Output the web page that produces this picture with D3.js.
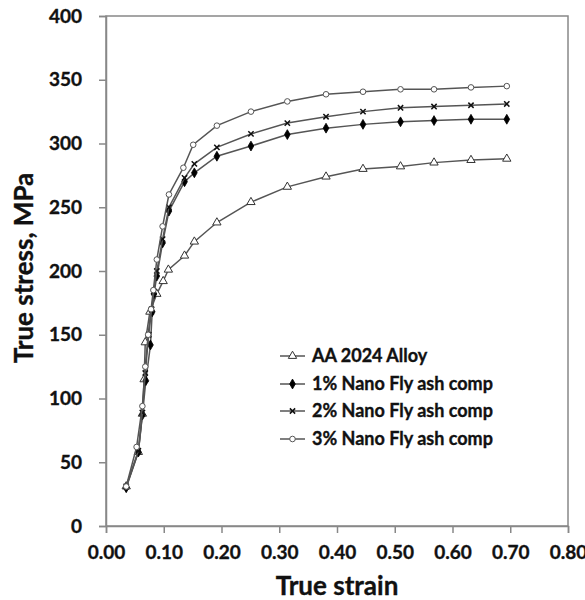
<!DOCTYPE html>
<html><head><meta charset="utf-8">
<script src="https://cdn.jsdelivr.net/npm/d3@7"></script>
<style>body{margin:0;background:#fff}svg{display:block}text{font-family:Lato,"Open Sans",sans-serif;font-weight:bold;fill:#111;stroke:#111;stroke-width:0.35px}</style>
</head><body>
<svg id="c" width="585" height="600"></svg>
<script>
const seriesNames = ["AA 2024 Alloy","1% Nano Fly ash comp","2% Nano Fly ash comp","3% Nano Fly ash comp"];
const strainAA = [0.035,0.056,0.063,0.066,0.068,0.076,0.088,0.099,0.108,0.136,0.153,0.192,0.251,0.314,0.381,0.445,0.51,0.568,0.632,0.694];
const stressAA = [31,58,88,115,144,168,182,192,201,212,223,238,254,266,274,280,282,285,287,288];
const strain1 = [0.035,0.056,0.063,0.069,0.077,0.080,0.083,0.088,0.098,0.109,0.136,0.153,0.192,0.251,0.314,0.381,0.445,0.51,0.568,0.632,0.694];
const stress1 = [30,58,87,114,142,168,182,196,222,247,270,277,290,298,307,312,315,317,318,319,319];
const strain2 = [0.035,0.056,0.063,0.068,0.074,0.079,0.083,0.088,0.098,0.109,0.136,0.153,0.192,0.251,0.314,0.381,0.445,0.51,0.568,0.632,0.694];
const stress2 = [31,59,89,120,150,170,184,200,225,250,273,284,297,307.5,316,321,325,328,329,330,331];
const strain3 = [0.035,0.053,0.063,0.068,0.073,0.078,0.082,0.088,0.098,0.109,0.134,0.151,0.192,0.251,0.314,0.381,0.445,0.51,0.568,0.632,0.694];
const stress3 = [31,62,94,125,150,170,185,209,235,260,281,299,314,325,333,338.6,340.6,342.5,342.5,344,345];
const xTicks = [0,0.1,0.2,0.3,0.4,0.5,0.6,0.7,0.8];
const yTicks = [0,50,100,150,200,250,300,350,400];

const svg = d3.select("#c");
const L=106, R=568, T=16, B=526;
const x = d3.scaleLinear().domain([0,0.8]).range([L,R]);
const y = d3.scaleLinear().domain([0,400]).range([B,T]);
const axisCol = "#888";

// frame
svg.append("rect").attr("x",L).attr("y",T).attr("width",R-L).attr("height",B-T)
  .attr("fill","none").attr("stroke",axisCol).attr("stroke-width",1.5);

const gx = svg.append("g").attr("transform",`translate(0,${B})`)
  .call(d3.axisBottom(x).tickValues(xTicks).tickFormat(d3.format(".2f")).tickSize(7).tickPadding(13));
const gy = svg.append("g").attr("transform",`translate(${L},0)`)
  .call(d3.axisLeft(y).tickValues(yTicks).tickSize(7).tickPadding(17));
[gx,gy].forEach(g=>{
  g.select(".domain").attr("stroke",axisCol).attr("stroke-width",1.5);
  g.selectAll(".tick line").attr("stroke",axisCol).attr("stroke-width",1.5);
  g.selectAll("text").attr("font-size",19).attr("font-family","Lato").attr("font-weight","bold").attr("fill","#111");
});

svg.append("text").attr("x",337).attr("y",595).attr("text-anchor","middle").attr("font-size",26).text("True strain");
svg.append("text").attr("transform","translate(33,268) rotate(-90)").attr("text-anchor","middle").attr("font-size",26).text("True stress, MPa");

const data = [
  {name:seriesNames[0], xs:strainAA, ys:stressAA, m:"tri"},
  {name:seriesNames[1], xs:strain1, ys:stress1, m:"dia"},
  {name:seriesNames[2], xs:strain2, ys:stress2, m:"star"},
  {name:seriesNames[3], xs:strain3, ys:stress3, m:"circ"}
];
const line = d3.line().x(d=>x(d[0])).y(d=>y(d[1]));

function marker(g, type, cx, cy){
  if(type==="tri"){
    g.append("path").attr("d",d3.symbol(d3.symbolTriangle,30)()).attr("transform",`translate(${cx},${cy})`)
      .attr("fill","#fff").attr("stroke","#333").attr("stroke-width",1);
  } else if(type==="dia"){
    g.append("path").attr("d",d3.symbol(d3.symbolDiamond,28)()).attr("transform",`translate(${cx},${cy})`)
      .attr("fill","#000").attr("stroke","#000").attr("stroke-width",0.8);
  } else if(type==="star"){
    g.append("path").attr("d",d3.symbol(d3.symbolX,20)()).attr("transform",`translate(${cx},${cy})`)
      .attr("fill","none").attr("stroke","#111").attr("stroke-width",1.5);
  } else {
    g.append("circle").attr("cx",cx).attr("cy",cy).attr("r",2.8)
      .attr("fill","#fff").attr("stroke","#555").attr("stroke-width",1);
  }
}

data.forEach(s=>{
  const pts = s.xs.map((v,i)=>[v,s.ys[i]]);
  const g = svg.append("g");
  g.append("path").datum(pts).attr("d",line).attr("fill","none").attr("stroke","#555").attr("stroke-width",1.5);
  pts.forEach(p=>marker(g,s.m,x(p[0]),y(p[1])));
});

// legend
const legY = [356,384,411,439];
data.forEach((s,i)=>{
  const g = svg.append("g");
  g.append("line").attr("x1",280).attr("x2",305).attr("y1",legY[i]).attr("y2",legY[i]).attr("stroke","#555").attr("stroke-width",1.5);
  marker(g,s.m,292.5,legY[i]);
  g.append("text").attr("x",312).attr("y",legY[i]).attr("dy","0.35em").attr("font-size",18).text(s.name);
});
</script>
</body></html>
